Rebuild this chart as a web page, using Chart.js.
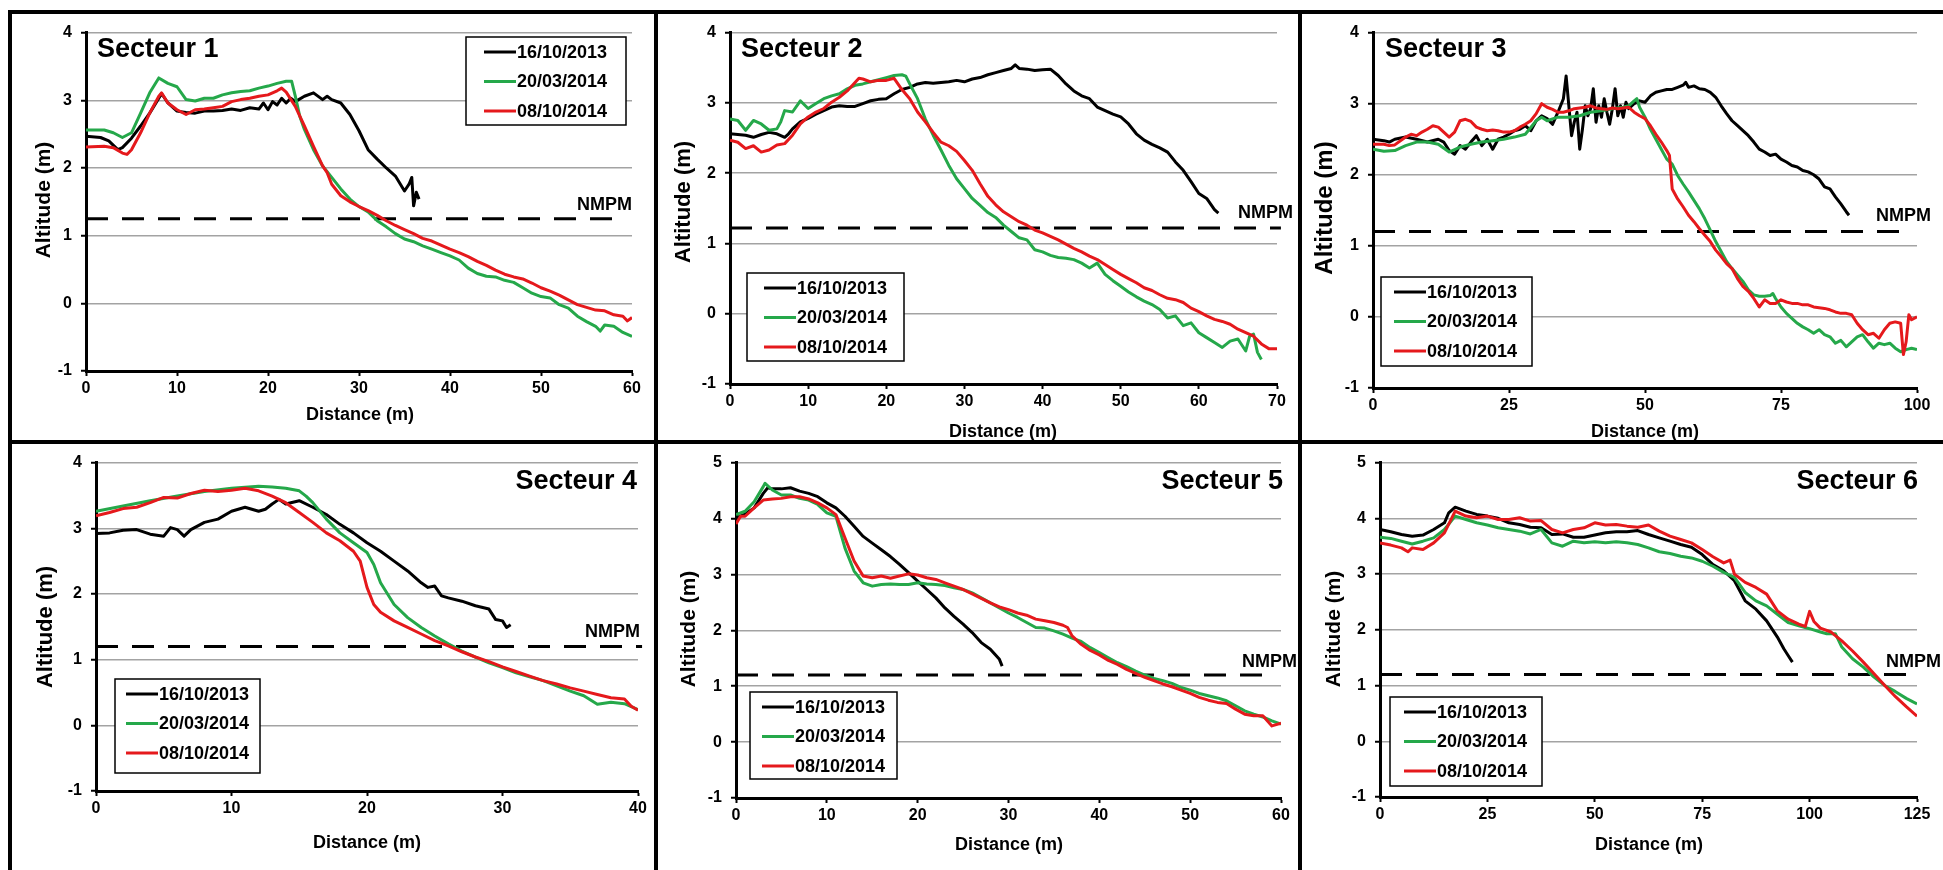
<!DOCTYPE html>
<html>
<head>
<meta charset="utf-8">
<script src="https://cdn.jsdelivr.net/npm/chart.js@4.4.0/dist/chart.umd.min.js"></script>
<style>
  body { margin: 0; background: #fff; width: 1943px; height: 870px; overflow: hidden; position: relative; }
  .frame { position: absolute; background: #000; }
  canvas { position: absolute; }
</style>
</head>
<body>
<div class="frame" style="left:8px;top:10px;width:1935px;height:4px"></div>
<div class="frame" style="left:8px;top:10px;width:4px;height:860px"></div>
<div class="frame" style="left:654px;top:10px;width:4px;height:860px"></div>
<div class="frame" style="left:1298px;top:10px;width:4px;height:860px"></div>
<div class="frame" style="left:8px;top:440px;width:1935px;height:4px"></div>
<script>
const dates = ['16/10/2013', '20/03/2014', '08/10/2014'];
const colors = ['#000000', '#25a84a', '#e5191c'];
const titles = ['Secteur 1', 'Secteur 2', 'Secteur 3', 'Secteur 4', 'Secteur 5', 'Secteur 6'];
const xMax = [60, 70, 100, 40, 60, 125];
const xStep = [10, 10, 25, 10, 10, 25];
const yMax = [4, 4, 4, 4, 5, 5];
const nmpm = [1.25, 1.22, 1.2, 1.2, 1.2, 1.2];
const nmpmEnd = [58.5, 70.5, 97.6, 40.3, 58.4, 125];

// profiles, [distance (m), altitude (m)]
const s1a = [[0,2.47],[1.6,2.45],[2.5,2.40],[3.5,2.27],[4,2.30],[5,2.44],[6,2.62],[7,2.81],[8,3.03],[8.3,3.10],[9,2.96],[10,2.84],[11,2.82],[12,2.81],[13,2.84],[14,2.84],[15,2.85],[16,2.87],[17,2.85],[18,2.89],[19,2.87],[19.5,2.96],[20,2.86],[20.5,2.98],[21,2.93],[21.5,3.03],[22,2.96],[22.5,3.03],[23,2.98],[24,3.06],[25,3.11],[26,3.01],[26.5,3.06],[27,3.01],[28,2.96],[29,2.79],[30,2.55],[31,2.27],[32,2.13],[33,2.00],[34,1.88],[35,1.66],[35.5,1.76],[35.8,1.86],[36,1.44],[36.3,1.64],[36.6,1.54]];
const s1b = [[0,2.56],[2,2.56],[3,2.52],[4,2.45],[5,2.52],[6,2.81],[7,3.11],[8,3.33],[9,3.25],[10,3.20],[11,3.01],[12,2.99],[13,3.03],[14,3.03],[15,3.08],[16,3.11],[17,3.13],[18,3.14],[19,3.18],[20,3.21],[21,3.25],[22,3.28],[22.6,3.28],[23,3.06],[23.5,2.76],[24,2.57],[25,2.27],[26,2.03],[27,1.86],[28,1.69],[29,1.54],[30,1.43],[31,1.35],[32,1.22],[33,1.13],[34,1.03],[35,0.95],[36,0.91],[37,0.85],[38,0.80],[39,0.75],[40,0.70],[41,0.64],[42,0.52],[43,0.44],[44,0.40],[45,0.39],[46,0.34],[47,0.31],[48,0.23],[49,0.15],[50,0.10],[51,0.08],[52,-0.02],[53,-0.07],[54,-0.19],[55,-0.27],[56,-0.34],[56.5,-0.41],[57,-0.32],[58,-0.34],[59,-0.43],[60,-0.49]];
const s1c = [[0,2.31],[2,2.32],[3,2.30],[4,2.22],[4.5,2.20],[5,2.27],[6,2.52],[7,2.81],[8,3.06],[8.3,3.11],[9,2.96],[10,2.86],[11,2.79],[12,2.86],[13,2.87],[14,2.89],[15,2.91],[16,2.98],[17,3.01],[18,3.03],[19,3.06],[20,3.08],[21,3.14],[21.5,3.18],[22,3.12],[23,2.91],[24,2.62],[25,2.32],[26,2.03],[26.5,1.93],[27,1.76],[28,1.59],[29,1.50],[30,1.43],[31,1.37],[32,1.30],[33,1.22],[34,1.15],[35,1.09],[36,1.03],[37,0.96],[38,0.92],[39,0.86],[40,0.80],[41,0.75],[42,0.69],[43,0.62],[44,0.56],[45,0.49],[46,0.43],[47,0.39],[48,0.36],[49,0.30],[50,0.23],[51,0.18],[52,0.12],[53,0.05],[54,-0.02],[55,-0.06],[56,-0.10],[57,-0.11],[58,-0.17],[59,-0.19],[59.5,-0.26],[60,-0.21]];

const s2a = [[0,2.56],[1,2.55],[2,2.54],[3,2.51],[4,2.55],[5,2.58],[6,2.56],[7,2.51],[7.5,2.56],[8,2.63],[9,2.73],[10,2.78],[11,2.84],[12,2.89],[13,2.94],[14,2.96],[15,2.95],[16,2.95],[17,2.99],[18,3.03],[19,3.05],[20,3.06],[21,3.13],[22,3.19],[23,3.22],[24,3.27],[25,3.29],[26,3.28],[27,3.29],[28,3.30],[29,3.32],[30,3.30],[31,3.34],[32,3.36],[33,3.40],[34,3.43],[35,3.46],[36,3.49],[36.5,3.54],[37,3.49],[38,3.48],[39,3.46],[40,3.47],[41,3.48],[42,3.39],[43,3.27],[44,3.17],[45,3.10],[46,3.06],[47,2.94],[48,2.89],[49,2.84],[50,2.80],[51,2.70],[52,2.56],[53,2.47],[54,2.41],[55,2.36],[56,2.30],[57,2.16],[58,2.04],[59,1.88],[60,1.71],[61,1.64],[62,1.48],[62.5,1.43]];
const s2b = [[0,2.77],[1,2.75],[2,2.61],[3,2.75],[4,2.70],[5,2.61],[6,2.63],[6.5,2.73],[7,2.89],[8,2.87],[9,3.03],[10,2.92],[11,2.99],[12,3.06],[13,3.10],[14,3.13],[15,3.20],[16,3.25],[17,3.27],[18,3.30],[19,3.33],[20,3.36],[21,3.39],[22,3.40],[22.5,3.38],[23,3.27],[24,3.06],[25,2.77],[26,2.54],[27,2.33],[28,2.11],[29,1.92],[30,1.78],[31,1.64],[32,1.54],[33,1.44],[34,1.37],[35,1.26],[36,1.17],[37,1.08],[38,1.05],[39,0.91],[40,0.88],[41,0.83],[42,0.80],[43,0.79],[44,0.77],[45,0.72],[46,0.65],[47,0.72],[48,0.56],[49,0.47],[50,0.39],[51,0.31],[52,0.24],[53,0.18],[54,0.13],[55,0.06],[56,-0.06],[57,-0.03],[58,-0.17],[59,-0.13],[60,-0.27],[61,-0.34],[62,-0.41],[63,-0.48],[64,-0.39],[65,-0.36],[66,-0.53],[66.5,-0.32],[67,-0.29],[67.5,-0.55],[68,-0.65]];
const s2c = [[0,2.47],[1,2.44],[2,2.35],[3,2.39],[4,2.30],[5,2.33],[6,2.40],[7,2.42],[8,2.54],[9,2.70],[10,2.80],[11,2.87],[12,2.92],[13,3.01],[14,3.08],[15,3.17],[16,3.29],[16.5,3.35],[17,3.34],[18,3.30],[19,3.32],[20,3.32],[21,3.35],[22,3.19],[23,3.06],[24,2.87],[25,2.73],[26,2.58],[27,2.44],[28,2.39],[29,2.31],[30,2.18],[31,2.04],[32,1.85],[33,1.67],[34,1.55],[35,1.45],[36,1.38],[37,1.31],[38,1.26],[39,1.19],[40,1.15],[41,1.10],[42,1.05],[43,0.99],[44,0.93],[45,0.88],[46,0.82],[47,0.77],[48,0.70],[49,0.63],[50,0.56],[51,0.50],[52,0.44],[53,0.37],[54,0.33],[55,0.27],[56,0.22],[57,0.20],[58,0.16],[59,0.08],[60,0.03],[61,-0.03],[62,-0.08],[63,-0.11],[64,-0.15],[65,-0.22],[66,-0.27],[67,-0.32],[68,-0.43],[69,-0.50],[70,-0.50]];

const s3a = [[0,2.50],[2,2.48],[3,2.46],[4,2.50],[6,2.53],[8,2.50],[10,2.46],[12,2.50],[13,2.46],[14,2.34],[15,2.29],[16,2.41],[17,2.36],[18,2.46],[19,2.55],[20,2.41],[21,2.50],[22,2.36],[23,2.50],[24,2.53],[25,2.57],[26,2.62],[27,2.64],[28,2.69],[29,2.62],[30,2.76],[31,2.83],[32,2.79],[33,2.71],[34,2.88],[35,3.07],[35.5,3.39],[36,2.97],[36.5,2.55],[37,2.74],[37.5,2.88],[38,2.36],[38.5,2.64],[39,2.97],[39.5,2.83],[40,2.93],[40.5,3.21],[41,2.74],[41.5,2.97],[42,2.81],[42.5,3.07],[43,2.88],[43.5,2.71],[44,2.93],[44.5,3.21],[45,2.83],[45.5,2.97],[46,2.81],[46.5,3.02],[47,2.93],[48,3.00],[49,3.04],[50,3.02],[51,3.11],[52,3.16],[53,3.18],[54,3.20],[55,3.20],[56,3.23],[57,3.26],[57.5,3.30],[58,3.23],[59,3.25],[60,3.21],[61,3.20],[62,3.16],[63,3.09],[64,2.97],[65,2.86],[66,2.76],[67,2.69],[68,2.62],[69,2.55],[70,2.46],[71,2.36],[72,2.32],[73,2.27],[74,2.29],[75,2.22],[76,2.18],[77,2.13],[78,2.11],[79,2.06],[80,2.04],[81,2.00],[82,1.94],[83,1.83],[84,1.80],[85,1.69],[86,1.59],[87,1.48],[87.5,1.43]];
const s3b = [[0,2.36],[2,2.33],[4,2.34],[6,2.41],[8,2.46],[10,2.46],[12,2.43],[14,2.32],[16,2.39],[18,2.43],[20,2.46],[22,2.48],[24,2.50],[26,2.53],[28,2.57],[30,2.76],[31,2.81],[32,2.76],[34,2.81],[36,2.81],[38,2.83],[40,2.88],[42,2.90],[44,2.93],[46,2.95],[47,2.97],[48,3.04],[48.5,3.07],[49,2.95],[50,2.81],[51,2.64],[52,2.50],[53,2.36],[54,2.22],[55,2.15],[56,1.99],[57,1.87],[58,1.76],[59,1.64],[60,1.52],[61,1.38],[62,1.22],[63,1.06],[64,0.92],[65,0.78],[66,0.68],[67,0.59],[68,0.50],[69,0.38],[70,0.31],[71,0.29],[72,0.29],[73,0.30],[73.5,0.33],[74,0.26],[75,0.14],[76,0.05],[77,-0.02],[78,-0.09],[79,-0.14],[80,-0.18],[81,-0.23],[82,-0.18],[83,-0.25],[84,-0.28],[85,-0.37],[86,-0.33],[87,-0.42],[88,-0.35],[89,-0.28],[90,-0.25],[91,-0.35],[92,-0.44],[93,-0.37],[94,-0.39],[95,-0.37],[96,-0.44],[97,-0.49],[98,-0.46],[99,-0.44],[100,-0.46]];
const s3c = [[0,2.43],[2,2.43],[3,2.41],[4,2.42],[6,2.53],[7,2.57],[8,2.55],[9,2.60],[10,2.64],[11,2.69],[12,2.67],[13,2.60],[14,2.53],[15,2.60],[16,2.76],[17,2.78],[18,2.75],[19,2.67],[20,2.64],[21,2.62],[22,2.63],[23,2.62],[24,2.60],[25,2.60],[26,2.62],[27,2.67],[28,2.71],[29,2.76],[30,2.86],[31,3.00],[32,2.95],[33,2.92],[34,2.88],[35,2.88],[36,2.90],[37,2.93],[38,2.94],[39,2.95],[40,2.97],[41,2.94],[42,2.93],[43,2.92],[44,2.94],[45,2.93],[46,2.94],[47,2.95],[48,2.88],[49,2.83],[50,2.79],[51,2.69],[52,2.57],[53,2.46],[54,2.34],[54.5,2.27],[55,1.80],[56,1.66],[57,1.55],[58,1.43],[59,1.34],[60,1.24],[61,1.15],[62,1.06],[63,0.94],[64,0.85],[65,0.75],[66,0.68],[67,0.54],[68,0.43],[69,0.36],[70,0.26],[71,0.14],[72,0.24],[73,0.19],[74,0.19],[75,0.24],[76,0.21],[77,0.19],[78,0.19],[79,0.17],[80,0.17],[81,0.14],[82,0.13],[83,0.12],[84,0.10],[85,0.07],[86,0.05],[87,0.05],[88,0.03],[89,-0.09],[90,-0.18],[91,-0.25],[92,-0.23],[93,-0.30],[94,-0.18],[95,-0.09],[96,-0.07],[97,-0.09],[97.5,-0.53],[98,-0.35],[98.5,0.03],[99,-0.04],[100,0.00]];

const s4a = [[0,2.92],[1,2.93],[2,2.97],[3,2.98],[4,2.91],[5,2.88],[5.5,3.01],[6,2.98],[6.5,2.88],[7,2.98],[8,3.09],[9,3.14],[10,3.26],[11,3.32],[12,3.26],[12.5,3.29],[13,3.37],[13.5,3.44],[14,3.37],[15,3.42],[16,3.32],[17,3.21],[18,3.06],[19,2.93],[20,2.78],[21,2.65],[22,2.50],[23,2.35],[24,2.17],[24.5,2.10],[25,2.12],[25.5,1.97],[26,1.94],[27,1.89],[28,1.82],[29,1.77],[29.5,1.61],[30,1.59],[30.3,1.49],[30.6,1.53]];
const s4b = [[0,3.26],[2,3.34],[4,3.42],[6,3.49],[8,3.56],[10,3.61],[12,3.64],[13,3.63],[14,3.61],[15,3.57],[15.5,3.49],[16,3.39],[17,3.14],[18,2.93],[19,2.78],[20,2.63],[20.5,2.45],[21,2.17],[22,1.84],[23,1.64],[24,1.49],[25,1.36],[26,1.24],[27,1.13],[28,1.04],[29,0.95],[30,0.88],[31,0.80],[32,0.74],[33,0.68],[34,0.60],[35,0.52],[36,0.45],[37,0.32],[38,0.35],[39,0.33],[40,0.24]];
const s4c = [[0,3.19],[1,3.24],[2,3.30],[3,3.32],[4,3.39],[5,3.47],[6,3.46],[7,3.53],[8,3.58],[9,3.56],[10,3.58],[11,3.61],[12,3.57],[13,3.49],[14,3.39],[15,3.24],[16,3.09],[17,2.93],[18,2.81],[19,2.65],[19.5,2.50],[20,2.10],[20.5,1.84],[21,1.72],[22,1.59],[23,1.49],[24,1.39],[25,1.29],[26,1.21],[27,1.12],[28,1.04],[29,0.97],[30,0.89],[31,0.82],[32,0.75],[33,0.68],[34,0.63],[35,0.57],[36,0.52],[37,0.47],[38,0.42],[39,0.40],[39.5,0.29],[40,0.23]];

const s5a = [[0,4.01],[1,4.08],[2,4.19],[3,4.45],[3.5,4.55],[4,4.53],[5,4.53],[6,4.55],[7,4.49],[8,4.45],[9,4.39],[10,4.28],[11,4.19],[12,4.04],[13,3.86],[14,3.68],[15,3.56],[16,3.44],[17,3.32],[18,3.18],[19,3.03],[20,2.88],[21,2.73],[22,2.58],[23,2.40],[24,2.25],[25,2.11],[26,1.96],[27,1.78],[28,1.66],[29,1.48],[29.3,1.36]];
const s5b = [[0,4.07],[1,4.13],[2,4.30],[3,4.57],[3.2,4.63],[4,4.51],[5,4.42],[6,4.42],[7,4.36],[8,4.33],[9,4.25],[10,4.10],[11,4.04],[12,3.47],[13,3.06],[14,2.85],[15,2.79],[16,2.82],[17,2.83],[18,2.82],[19,2.82],[20,2.85],[21,2.83],[22,2.82],[23,2.80],[24,2.76],[25,2.73],[26,2.67],[27,2.58],[28,2.49],[29,2.40],[30,2.31],[31,2.23],[32,2.14],[33,2.05],[34,2.04],[35,1.99],[36,1.93],[37,1.86],[38,1.80],[39,1.69],[40,1.60],[41,1.51],[42,1.42],[43,1.35],[44,1.27],[45,1.20],[46,1.14],[47,1.10],[48,1.05],[49,0.98],[50,0.93],[51,0.87],[52,0.83],[53,0.79],[54,0.74],[55,0.65],[56,0.56],[57,0.50],[58,0.45],[59,0.38],[60,0.32]];
const s5c = [[0,3.90],[0.5,4.04],[1,4.04],[2,4.19],[3,4.33],[4,4.35],[5,4.36],[6,4.39],[7,4.39],[8,4.35],[9,4.28],[10,4.19],[11,4.07],[12,3.65],[13,3.24],[14,2.97],[15,2.94],[16,2.97],[17,2.93],[18,2.97],[19,3.01],[20,2.99],[21,2.94],[22,2.91],[23,2.85],[24,2.79],[25,2.73],[26,2.65],[27,2.57],[28,2.49],[29,2.42],[30,2.37],[31,2.31],[32,2.27],[33,2.20],[34,2.17],[35,2.14],[36,2.09],[36.5,2.05],[37,1.90],[38,1.75],[39,1.64],[40,1.56],[41,1.46],[42,1.39],[43,1.30],[44,1.23],[45,1.16],[46,1.10],[47,1.04],[48,0.99],[49,0.93],[50,0.87],[51,0.80],[52,0.75],[53,0.71],[54,0.69],[55,0.59],[56,0.50],[57,0.47],[58,0.47],[59,0.29],[60,0.34]];

const s6a = [[0,3.80],[2.5,3.76],[5,3.71],[7.5,3.68],[10,3.70],[12.5,3.80],[15,3.92],[16,4.10],[17.5,4.20],[20,4.13],[22.5,4.07],[25,4.04],[27.5,4.00],[30,3.92],[32.5,3.89],[35,3.84],[37.5,3.83],[40,3.71],[42.5,3.72],[45,3.66],[47.5,3.66],[50,3.70],[52.5,3.74],[55,3.76],[57.5,3.76],[60,3.78],[62.5,3.71],[65,3.65],[67.5,3.59],[70,3.53],[72.5,3.48],[75,3.35],[77.5,3.17],[80,3.06],[82.5,2.88],[85,2.52],[87.5,2.37],[90,2.16],[92.5,1.87],[94,1.66],[95,1.54],[96,1.42]];
const s6b = [[0,3.66],[2.5,3.64],[5,3.59],[7.5,3.54],[10,3.59],[12.5,3.65],[15,3.80],[17.5,4.04],[20,3.98],[22.5,3.92],[25,3.88],[27.5,3.83],[30,3.80],[32.5,3.77],[35,3.72],[37.5,3.80],[40,3.56],[42.5,3.50],[45,3.59],[47.5,3.56],[50,3.58],[52.5,3.56],[55,3.58],[57.5,3.56],[60,3.53],[62.5,3.47],[65,3.40],[67.5,3.37],[70,3.32],[72.5,3.29],[75,3.23],[77.5,3.14],[80,3.03],[82.5,2.94],[85,2.67],[87.5,2.52],[90,2.43],[92.5,2.28],[95,2.13],[97.5,2.07],[100,2.02],[102.5,1.96],[104,1.93],[106,1.93],[107.5,1.69],[110,1.48],[112.5,1.33],[115,1.15],[117.5,1.00],[120,0.89],[122.5,0.77],[125,0.67]];
const s6c = [[0,3.56],[2.5,3.52],[5,3.47],[6.5,3.40],[7.5,3.47],[10,3.44],[12.5,3.56],[15,3.74],[17.5,4.13],[20,4.04],[22.5,4.01],[25,4.04],[27.5,3.98],[30,3.98],[32.5,4.01],[35,3.95],[37.5,3.96],[40,3.80],[42.5,3.74],[45,3.80],[47.5,3.83],[50,3.92],[52.5,3.88],[55,3.89],[57.5,3.86],[60,3.84],[62.5,3.88],[65,3.77],[67.5,3.68],[70,3.62],[72.5,3.56],[75,3.44],[77.5,3.31],[80,3.20],[81.5,3.25],[82.5,3.00],[85,2.85],[87.5,2.76],[90,2.64],[92.5,2.34],[95,2.19],[97.5,2.10],[99,2.06],[100,2.33],[101,2.15],[102.5,2.03],[105,1.96],[107.5,1.80],[110,1.62],[112.5,1.42],[115,1.21],[117.5,1.00],[120,0.80],[122.5,0.62],[125,0.45]];

const profiles = [
  [s1a, s1b, s1c], [s2a, s2b, s2c], [s3a, s3b, s3c],
  [s4a, s4b, s4c], [s5a, s5b, s5c], [s6a, s6b, s6c],
];

// page layout (pixels)
const boxes = [[12,14,642,426],[658,14,640,426],[1302,14,641,426],[12,444,642,426],[658,444,640,426],[1302,444,641,426]];
const plots = [[86,29,632,371],[730,30,1277,384],[1373,30,1917,388],[96,462,638,791],[736,461,1281,798],[1380,461,1917,797]];
const legendBox = [[466,37,160,88,18],[747,273,157,88,17],[1381,277,151,89,13],[115,679,145,94,11],[750,692,147,87,12],[1390,697,152,89,14]];
const titlePos = [[97,50,'left'],[741,50,'left'],[1385,50,'left'],[637,482,'right'],[1283,482,'right'],[1918,482,'right']];
const yTitlePos = [[44,200,21],[684,202,22],[1325,208,24],[46,627,22],[689,629,21],[1334,629,21]];
const xTitlePos = [[360,415],[1003,432],[1645,432],[367,843],[1009,845],[1649,845]];
const nmpmPos = [[632,205],[1293,213],[1931,216],[640,632],[1297,662],[1941,662]];

const FONT = '"Liberation Sans", Arial, sans-serif';
Chart.defaults.font.family = FONT;
Chart.defaults.color = '#000';

const panelText = {
  id: 'panelText',
  afterDraw(chart, args, o) {
    const ctx = chart.ctx;
    const dx = o.box[0], dy = o.box[1];
    ctx.save();
    ctx.fillStyle = '#000';
    ctx.textBaseline = 'middle';

    ctx.font = 'bold 27px ' + FONT;
    ctx.textAlign = o.title[2];
    ctx.fillText(o.name, o.title[0] - dx, o.title[1] - dy);

    ctx.font = 'bold 18px ' + FONT;
    ctx.textAlign = 'center';
    ctx.fillText('Distance (m)', o.xTitle[0] - dx, o.xTitle[1] - dy);

    ctx.textAlign = 'right';
    ctx.fillText('NMPM', o.nmpm[0] - dx, o.nmpm[1] - dy);

    ctx.save();
    ctx.translate(o.yTitle[0] - dx, o.yTitle[1] - dy);
    ctx.rotate(-Math.PI / 2);
    ctx.textAlign = 'center';
    ctx.font = 'bold ' + o.yTitle[2] + 'px ' + FONT;
    ctx.fillText('Altitude (m)', 0, 0);
    ctx.restore();

    // legend
    const [lx, ly, lw, lh, off] = o.legend;
    const x0 = lx - dx, y0 = ly - dy;
    ctx.fillStyle = '#fff';
    ctx.fillRect(x0, y0, lw, lh);
    ctx.strokeStyle = '#000';
    ctx.lineWidth = 1.5;
    ctx.strokeRect(x0, y0, lw, lh);
    ctx.font = 'bold 18px ' + FONT;
    ctx.textAlign = 'left';
    for (let k = 0; k < 3; k++) {
      const ds = chart.data.datasets[k];
      const ry = y0 + 15 + k * 29.5;
      ctx.strokeStyle = ds.borderColor;
      ctx.lineWidth = 3;
      ctx.beginPath();
      ctx.moveTo(x0 + off, ry);
      ctx.lineTo(x0 + off + 32, ry);
      ctx.stroke();
      ctx.fillStyle = '#000';
      ctx.fillText(ds.label, x0 + off + 33, ry + 1);
    }
    ctx.restore();
  }
};

for (let i = 0; i < 6; i++) {
  const [bl, bt, bw, bh] = boxes[i];
  const [pl, pt, pr, pb] = plots[i];
  const canvas = document.createElement('canvas');
  canvas.width = bw;
  canvas.height = bh;
  canvas.style.left = bl + 'px';
  canvas.style.top = bt + 'px';
  canvas.style.width = bw + 'px';
  canvas.style.height = bh + 'px';
  document.body.appendChild(canvas);

  const datasets = profiles[i].map((pts, k) => ({
    label: dates[k],
    data: pts.map(([x, y]) => ({ x, y })),
    borderColor: colors[k],
    borderWidth: 3,
    borderJoinStyle: 'round',
    pointRadius: 0,
    tension: 0,
    order: 2 - k,
  }));
  datasets.push({
    label: 'NMPM',
    data: [{ x: 0, y: nmpm[i] }, { x: nmpmEnd[i], y: nmpm[i] }],
    borderColor: '#000',
    borderWidth: 3,
    borderDash: [22, 14],
    pointRadius: 0,
    clip: false,
    order: 3,
  });

  new Chart(canvas, {
    type: 'line',
    data: { datasets },
    options: {
      responsive: false,
      animation: false,
      devicePixelRatio: 1,
      layout: { padding: { left: 0, top: pt - bt, right: bl + bw - pr, bottom: 0 } },
      scales: {
        x: {
          type: 'linear',
          min: 0,
          max: xMax[i],
          afterFit: (s) => { s.height = bt + bh - pb; },
          ticks: { stepSize: xStep[i], autoSkip: false, maxRotation: 0, padding: 3, color: '#000', font: { size: 16, weight: 'bold' } },
          grid: { drawOnChartArea: false, tickLength: 5, tickColor: '#000', tickWidth: 2 },
          border: { color: '#000', width: 3 },
        },
        y: {
          min: -1,
          max: yMax[i],
          afterFit: (s) => { s.width = pl - bl; },
          ticks: { stepSize: 1, padding: 9, color: '#000', font: { size: 16, weight: 'bold' } },
          grid: { color: '#a3a3a3', lineWidth: 1.5, tickLength: 5, tickColor: '#000', tickWidth: 2 },
          border: { color: '#000', width: 3 },
        },
      },
      plugins: {
        legend: { display: false },
        tooltip: { enabled: false },
        panelText: {
          box: boxes[i],
          name: titles[i],
          title: titlePos[i],
          xTitle: xTitlePos[i],
          yTitle: yTitlePos[i],
          nmpm: nmpmPos[i],
          legend: legendBox[i],
        },
      },
    },
    plugins: [panelText],
  });
}
</script>
</body>
</html>
